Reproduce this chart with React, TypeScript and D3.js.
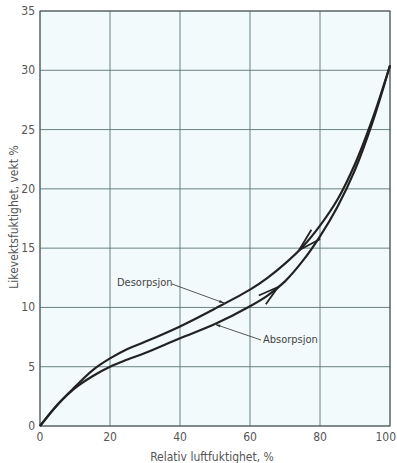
import React from "react";
import * as d3 from "d3";

// relative humidity, %
const rh = [0, 5, 10, 15, 20, 25, 30, 40, 50, 60, 65, 70, 75, 80, 85, 90, 95, 100];
// equilibrium moisture content, weight %
const desorpsjon = [0, 1.8, 3.3, 4.7, 5.7, 6.5, 7.1, 8.4, 9.9, 11.5, 12.5, 13.7, 15.1, 16.9, 19.1, 22.1, 25.9, 30.4];
const absorpsjon = [0, 1.8, 3.2, 4.2, 5.0, 5.6, 6.15, 7.4, 8.6, 10.1, 11.0, 12.2, 13.9, 16.0, 18.5, 21.6, 25.6, 30.4];

const xTicks = [0, 20, 40, 60, 80, 100];
const yTicks = [0, 5, 10, 15, 20, 25, 30, 35];

const W = 397;
const H = 463;
const m = { top: 11, right: 7, bottom: 37, left: 40 };

const font = "'DejaVu Sans Condensed', 'Liberation Sans Narrow', sans-serif";

function valueAt(xs: number[], ys: number[], x: number) {
  return d3.scaleLinear().domain(xs).range(ys)(x);
}

export default function App() {
  const x = d3.scaleLinear().domain([0, 100]).range([m.left, W - m.right]);
  const y = d3.scaleLinear().domain([0, 35]).range([H - m.bottom, m.top]);

  const line = d3
    .line<number>()
    .x((_, i) => x(rh[i]))
    .y((d) => y(d))
    .curve(d3.curveCatmullRom.alpha(0.5));

  // chevron arrow on a curve, pointing forward (dir=1) or backward (dir=-1) along x
  const chevron = (ys: number[], at: number, dir: number, len: number) => {
    const px = x(at);
    const py = y(valueAt(rh, ys, at));
    const p2x = x(at - dir);
    const p2y = y(valueAt(rh, ys, at - dir));
    const ang = Math.atan2(p2y - py, p2x - px);
    const a = 0.27;
    const p1 = [px + len * Math.cos(ang + a), py + len * Math.sin(ang + a)];
    const p3 = [px + len * Math.cos(ang - a), py + len * Math.sin(ang - a)];
    return `M${p1[0]},${p1[1]}L${px},${py}L${p3[0]},${p3[1]}`;
  };

  // leader line with small arrowhead at the curve
  const leader = (sx: number, sy: number, ys: number[], at: number) => {
    const tx = x(at);
    const ty = y(valueAt(rh, ys, at));
    const ang = Math.atan2(sy - ty, sx - tx);
    const l = 6;
    const a = 0.22;
    const head = `M${tx},${ty}L${tx + l * Math.cos(ang + a)},${ty + l * Math.sin(ang + a)}L${tx + l * Math.cos(ang - a)},${ty + l * Math.sin(ang - a)}Z`;
    return { line: `M${sx},${sy}L${tx},${ty}`, head };
  };

  const desLead = leader(172, 284, desorpsjon, 52.8);
  const absLead = leader(261, 340, absorpsjon, 49.9);

  return (
    <div style={{ position: "absolute", left: 0, top: 0 }}>
      <svg width={W} height={H} style={{ display: "block", background: "#fff" }}>
        <rect
          x={x(0)}
          y={y(35)}
          width={x(100) - x(0)}
          height={y(0) - y(35)}
          fill="#f3fafb"
        />
        {xTicks.map((t) => (
          <line key={"gx" + t} x1={x(t)} x2={x(t)} y1={y(0)} y2={y(35)} stroke="#587676" strokeWidth={0.9} />
        ))}
        {yTicks.map((t) => (
          <line key={"gy" + t} x1={x(0)} x2={x(100)} y1={y(t)} y2={y(t)} stroke="#587676" strokeWidth={0.9} />
        ))}
        <rect
          x={x(0)}
          y={y(35)}
          width={x(100) - x(0)}
          height={y(0) - y(35)}
          fill="none"
          stroke="#555"
          strokeWidth={1}
        />

        {yTicks.map((t) => (
          <text key={"ty" + t} x={x(0) - 5} y={y(t) + 4} textAnchor="end" fontFamily={font} fontSize={12} fill="#555">
            {t}
          </text>
        ))}
        {xTicks.map((t) => (
          <text
            key={"tx" + t}
            x={t === 100 ? W - 1 : x(t)}
            y={y(0) + 15}
            textAnchor={t === 100 ? "end" : "middle"}
            fontFamily={font}
            fontSize={12}
            fill="#555"
          >
            {t}
          </text>
        ))}
        <text x={212} y={461} textAnchor="middle" fontFamily={font} fontSize={12} fill="#555">
          Relativ luftfuktighet, %
        </text>
        <text
          transform="translate(18,217) rotate(-90)"
          textAnchor="middle"
          fontFamily={font}
          fontSize={12}
          fill="#555"
        >
          Likevektsfuktighet, vekt %
        </text>

        <path d={line(desorpsjon) || ""} fill="none" stroke="#222" strokeWidth={2.2} />
        <path d={line(absorpsjon) || ""} fill="none" stroke="#222" strokeWidth={2.2} />

        <path d={chevron(desorpsjon, 74, -1, 24)} fill="none" stroke="#222" strokeWidth={1.8} />
        <path d={chevron(absorpsjon, 68, 1, 21)} fill="none" stroke="#222" strokeWidth={1.8} />

        <path d={desLead.line} stroke="#444" strokeWidth={0.9} />
        <path d={desLead.head} fill="#333" />
        <path d={absLead.line} stroke="#444" strokeWidth={0.9} />
        <path d={absLead.head} fill="#333" />

        <text x={117} y={286} fontFamily={font} fontSize={11} fill="#444">
          Desorpsjon
        </text>
        <text x={263} y={343} fontFamily={font} fontSize={11} fill="#444">
          Absorpsjon
        </text>
      </svg>
    </div>
  );
}
